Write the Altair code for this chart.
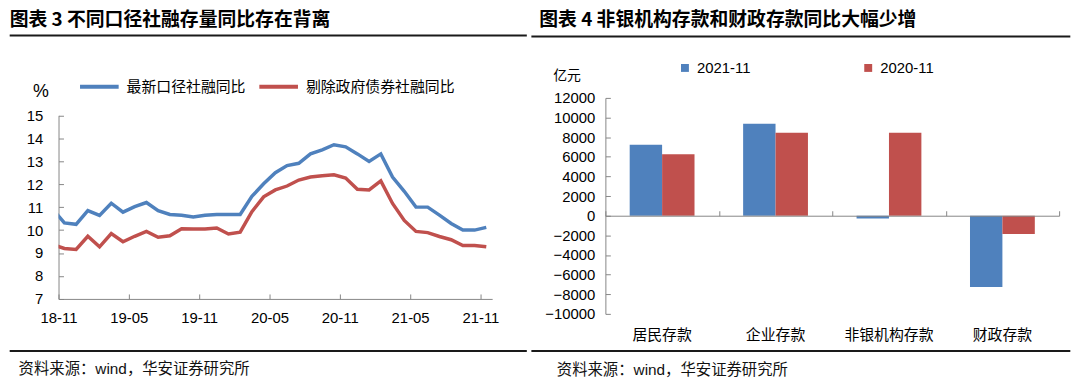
import json
import altair as alt
import pandas as pd

# ---------------- data ----------------
months = ["18-10", "18-11", "18-12", "19-01", "19-02", "19-03", "19-04", "19-05", "19-06", "19-07",
          "19-08", "19-09", "19-10", "19-11", "19-12", "20-01", "20-02", "20-03", "20-04", "20-05",
          "20-06", "20-07", "20-08", "20-09", "20-10", "20-11", "20-12", "21-01", "21-02", "21-03",
          "21-04", "21-05", "21-06", "21-07", "21-08", "21-09", "21-10", "21-11"]
tsf_new = [10.92, 10.31, 10.25, 10.85, 10.64, 11.17, 10.78, 11.02, 11.20, 10.85,
           10.68, 10.65, 10.57, 10.65, 10.68, 10.68, 10.68, 11.47, 12.02, 12.50,
           12.81, 12.91, 13.32, 13.50, 13.72, 13.63, 13.32, 12.99, 13.32, 12.31,
           11.69, 11.00, 11.00, 10.65, 10.29, 10.00, 10.00, 10.12]
tsf_ex_gov = [9.36, 9.20, 9.16, 9.73, 9.27, 9.85, 9.49, 9.73, 9.94, 9.69,
              9.75, 10.06, 10.05, 10.05, 10.09, 9.83, 9.91, 10.80, 11.45, 11.75,
              11.92, 12.18, 12.31, 12.37, 12.41, 12.27, 11.78, 11.75, 12.14, 11.16,
              10.42, 9.94, 9.89, 9.72, 9.58, 9.33, 9.33, 9.27]
line_series = ["最新口径社融同比", "剔除政府债券社融同比"]
x_tick_labels = ["18-11", "19-05", "19-11", "20-05", "20-11", "21-05", "21-11"]

deposit_cats = ["居民存款", "企业存款", "非银机构存款", "财政存款"]
dep_2021 = [7220, 9375, -280, -7260]
dep_2020 = [6250, 8440, 8440, -1875]
bar_series = ["2021-11", "2020-11"]

title_left = "图表 3  不同口径社融存量同比存在背离"
title_right = "图表 4  非银机构存款和财政存款同比大幅少增"
source_text = "资料来源：wind，华安证券研究所"

# ---------------- styles ----------------
BLUE = "#4F81BD"
RED = "#C0504D"
AX = "#868686"
CJK = "Noto Sans CJK SC"
NUM = "Liberation Sans"
MIX = "Liberation Sans, Noto Sans CJK SC"
TOP = 95.1          # page y of the plot-area tops (shared row origin)


def text_layer(txt, x, y, size, font, weight="normal", align="left", color="#000"):
    return alt.Chart(pd.DataFrame({"t": [txt]})).mark_text(
        align=align, baseline="middle", font=font, fontSize=size, fontWeight=weight, color=color
    ).encode(text="t:N", x=alt.value(x), y=alt.value(y))


def rule_layer(x1, x2, y):
    return alt.Chart(pd.DataFrame({"a": [0]})).mark_rule(color="#1a1a1a", strokeWidth=2).encode(
        x=alt.value(x1), x2=alt.value(x2), y=alt.value(y))


# ---------------- left panel ----------------
OX1 = 57.3
W1, H1 = 437.7, 298.0 - TOP
rows = []
for i, m in enumerate(months):
    rows.append({"pos": i - 0.5, "month": m, "series": line_series[0], "rate": tsf_new[i]})
    rows.append({"pos": i - 0.5, "month": m, "series": line_series[1], "rate": tsf_ex_gov[i]})
df_line = pd.DataFrame(rows)

x_left = alt.X(
    "pos:Q",
    scale=alt.Scale(domain=[0, 37], nice=False, zero=False),
    axis=alt.Axis(values=list(range(0, 37, 6)),
                  labelExpr=json.dumps(x_tick_labels, ensure_ascii=False) + "[round(datum.value/6)]",
                  title=None, grid=False, domainColor=AX, tickColor=AX,
                  tickSize={"expr": "-5"}, labelFont=NUM, labelFontSize=15, labelColor="#000",
                  labelBaseline="middle", labelPadding=23.7, labelFlush=False, labelOverlap=False),
)
y_left = alt.Y(
    "rate:Q",
    scale=alt.Scale(domain=[7, 15], nice=False, zero=False, range=[H1, 112.7 - TOP]),
    axis=alt.Axis(values=list(range(7, 16)), title=None, grid=False, domainColor=AX, tickColor=AX,
                  tickSize={"expr": "-5"}, labelFont=NUM, labelFontSize=15, labelColor="#000",
                  labelPadding=21),
)
lines = alt.Chart(df_line).mark_line(clip=True, strokeWidth=3.5).encode(
    x=x_left, y=y_left,
    color=alt.Color("series:N", sort=line_series,
                    scale=alt.Scale(domain=line_series, range=[BLUE, RED]),
                    legend=alt.Legend(title=None, orient="none", legendX=77 - OX1,
                                      legendY=81.5 - 19.5 - TOP,
                                      direction="horizontal", symbolType="stroke",
                                      symbolStrokeWidth=4, symbolSize=1521,
                                      labelFont=CJK, labelFontSize=15, labelColor="#000",
                                      labelOffset=6, columnPadding=5, labelLimit=400)),
)

left = alt.layer(
    lines,
    text_layer(title_left, 8 - OX1, 17 - TOP, 19, CJK, "bold"),
    rule_layer(8 - OX1, 530 - OX1, 32 - TOP),
    rule_layer(8 - OX1, 530 - OX1, 350.5 - TOP),
    text_layer(source_text, 17 - OX1, 369 - TOP, 15.5, MIX, color="#111"),
    text_layer("%", 39.6 - OX1, 89 - TOP, 18, NUM, align="center"),
).properties(width=W1, height=H1)

# ---------------- right panel ----------------
OX2 = 604.7
W2, H2 = 458.0, 218.0
YMIN, YMAX = -10000, 12000
zero_px = H2 * YMAX / (YMAX - YMIN)

df_bar = pd.DataFrame({
    "cat": deposit_cats * 2,
    "period": [bar_series[0]] * 4 + [bar_series[1]] * 4,
    "amount": dep_2021 + dep_2020,
})

x_right = alt.X(
    "cat:N", sort=deposit_cats,
    scale=alt.Scale(paddingInner=0, paddingOuter=0),
    axis=alt.Axis(orient="top", offset=-zero_px, labels=False, title=None, grid=False,
                  domain=True, ticks=True, tickBand="extent", tickSize=5,
                  domainColor=AX, tickColor=AX, zindex=1),
)
y_right = alt.Y(
    "amount:Q",
    scale=alt.Scale(domain=[YMIN, YMAX], nice=False),
    axis=alt.Axis(values=list(range(YMIN, YMAX + 1, 2000)), format="d", title=None, grid=False,
                  domainColor=AX, tickColor=AX, tickSize={"expr": "-5"},
                  labelFont=NUM, labelFontSize=15, labelColor="#000", labelPadding=15.7),
)
bars = alt.Chart(df_bar).mark_bar().encode(
    x=x_right,
    xOffset=alt.XOffset("period:N", sort=bar_series,
                        scale=alt.Scale(paddingInner=0, paddingOuter=0.75)),
    y=y_right,
    color=alt.Color("period:N", sort=bar_series,
                    scale=alt.Scale(domain=bar_series, range=[BLUE, RED]),
                    legend=alt.Legend(title=None, orient="none", legendX=677.5 - OX2,
                                      legendY=64.6 - 7.5 - TOP,
                                      direction="horizontal", symbolType="square",
                                      symbolSize=64, symbolStrokeWidth=0,
                                      labelFont=NUM, labelFontSize=15, labelColor="#000",
                                      labelOffset=4.7, columnPadding=111)),
)
cat_labels = alt.Chart(pd.DataFrame({"cat": deposit_cats})).mark_text(
    baseline="middle", align="center", font=CJK, fontSize=15, color="#000"
).encode(x=x_right, text="cat:N", y=alt.value(334.4 - TOP))

right = alt.layer(
    bars,
    cat_labels,
    text_layer(title_right, 538 - OX2, 17 - TOP, 19, CJK, "bold"),
    rule_layer(530 - OX2, 1074 - OX2, 33 - TOP),
    rule_layer(530 - OX2, 1074 - OX2, 350.5 - TOP),
    text_layer(source_text, 555.7 - OX2, 370 - TOP, 15.5, MIX, color="#111"),
    text_layer("亿元", 566 - OX2, 72.7 - TOP, 14, CJK, align="center"),
).properties(width=W2, height=H2)

chart = (alt.hconcat(left, right, spacing=0)
         .resolve_scale(x="independent", y="independent", color="independent")
         .properties(padding={"top": 1, "left": 0, "right": 0, "bottom": 0})
         .configure_view(stroke="transparent"))

chart.save("out.html", embed_options={"renderer": "svg", "actions": False})
